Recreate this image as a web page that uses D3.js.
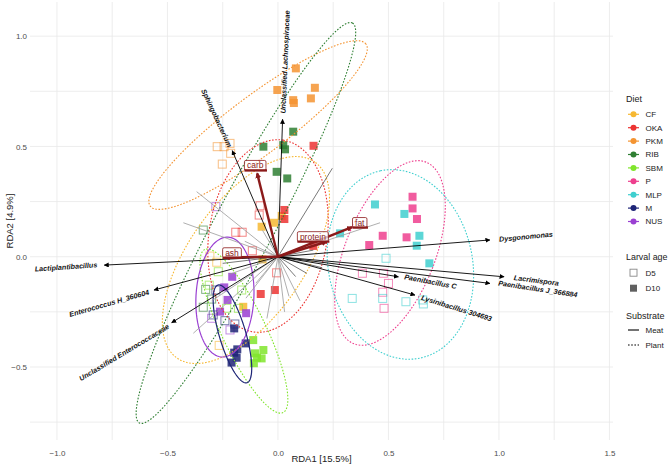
<!DOCTYPE html>
<html><head><meta charset="utf-8">
<script src="https://cdn.jsdelivr.net/npm/d3@7"></script>
<style>body{margin:0;background:#fff}svg{display:block;font-family:"Liberation Sans",Arial,sans-serif}</style>
</head><body>
<svg id="c" width="669" height="465"></svg>
<script>
// ---------- data ----------
const diets = ["CF","OKA","PKM","RIB","SBM","P","MLP","M","NUS"];
const dietColors = ["#F6B832","#EC3432","#F49432","#2F7F33","#80E52C","#EE3F8E","#3FCFCF","#1E2577","#9A40D2"];
const dietLine = ["dotted","dotted","dotted","dotted","dotted","dotted","dotted","solid","solid"];
const ages = ["D5","D10"];
const substrates = ["Meat","Plant"];

// samples
const sDiet = [
 "PKM","PKM","PKM","PKM","PKM","PKM","PKM","PKM","PKM","PKM","PKM",
 "CF","CF","CF","CF","CF","CF","CF","CF",
 "OKA","OKA","OKA","OKA","OKA","OKA","OKA","OKA","OKA","OKA","OKA","OKA",
 "RIB","RIB","RIB","RIB","RIB","RIB","RIB","RIB","RIB","RIB",
 "SBM","SBM","SBM","SBM","SBM","SBM","SBM","SBM","SBM","SBM","SBM",
 "NUS","NUS","NUS","NUS","NUS","NUS","NUS","NUS",
 "M","M","M","M","M","M","M","M","M","M",
 "P","P","P","P","P","P","P","P","P","P","P",
 "MLP","MLP","MLP","MLP","MLP","MLP","MLP","MLP","MLP","MLP","MLP","MLP"];
const sAge = [
 "D10","D10","D10","D10","D10","D10","D5","D5","D5","D5","D5",
 "D10","D10","D10","D10","D10","D5","D5","D5",
 "D10","D10","D10","D10","D10","D10","D5","D5","D5","D5","D5","D5",
 "D10","D10","D10","D10","D10","D10","D5","D5","D5","D5",
 "D10","D10","D10","D10","D10","D10","D5","D5","D5","D5","D5",
 "D10","D10","D10","D10","D10","D5","D5","D5",
 "D10","D10","D10","D10","D10","D10","D5","D5","D5","D5",
 "D10","D10","D10","D10","D10","D10","D5","D5","D5","D5","D5",
 "D10","D10","D10","D10","D10","D10","D5","D5","D5","D5","D5","D5"];
const sRDA1 = [
 0.081,-0.003,0.167,0.149,0.069,0.072,-0.275,-0.244,-0.217,-0.214,-0.252,
 -0.074,-0.018,0.017,-0.157,-0.070,-0.308,-0.277,-0.266,
 0.161,0.029,0.029,0.160,-0.078,-0.014,-0.081,-0.085,-0.191,-0.162,-0.116,-0.006,
 0.069,-0.066,0.024,0.032,-0.006,0.042,-0.338,-0.327,-0.338,-0.300,
 -0.112,-0.066,-0.104,-0.074,-0.095,-0.109,-0.311,-0.270,-0.164,-0.179,-0.232,
 -0.207,-0.243,-0.228,-0.262,-0.144,-0.281,-0.300,-0.217,
 -0.198,-0.146,-0.184,-0.198,-0.187,-0.210,-0.281,-0.195,-0.240,-0.293,
 0.609,0.609,0.629,0.474,0.582,0.413,0.382,0.477,0.500,0.474,0.480,
 0.439,0.572,0.640,0.628,0.281,0.685,0.489,0.336,0.474,0.579,0.655,0.658];
const sRDA2 = [
 0.854,0.756,0.766,0.718,0.710,0.697,0.499,0.499,0.514,0.469,0.420,
 0.136,0.154,0.185,-0.227,-0.012,0.003,-0.025,-0.402,
 0.503,0.212,0.171,0.049,-0.169,-0.151,0.231,0.189,0.111,0.111,0.027,-0.073,
 0.567,0.499,0.506,0.487,0.385,0.355,0.121,-0.148,-0.229,-0.192,
 -0.378,-0.423,-0.438,-0.461,-0.458,-0.483,-0.129,-0.068,-0.151,-0.234,-0.234,
 -0.091,-0.139,-0.196,-0.249,-0.256,0.227,-0.279,-0.332,
 -0.325,-0.393,-0.420,-0.435,-0.458,-0.480,-0.151,-0.305,-0.290,-0.264,
 0.272,0.219,0.171,0.095,0.088,0.053,-0.075,-0.075,-0.121,-0.161,-0.234,
 0.237,0.194,0.095,0.050,0.106,-0.030,-0.007,-0.189,-0.189,-0.204,-0.196,-0.214];

// confidence ellipses per diet (centre RDA1, RDA2, semi-axes, angle deg)
const ellDiet = ["PKM","RIB","OKA","CF","SBM","NUS","M","P","MLP"];
const ellCX   = [-0.090,-0.145,-0.045,-0.145,-0.154,-0.240,-0.206,0.507,0.554];
const ellCY   = [0.597,0.153,0.094,-0.015,-0.337,-0.183,-0.350,0.017,-0.035];
const ellA    = [0.611,1.027,0.440,0.543,0.410,0.272,0.231,0.443,0.434];
const ellB    = [0.132,0.136,0.267,0.262,0.100,0.131,0.060,0.204,0.326];
const ellAng  = [37,62,81,55,115.6,87,106.5,68.4,102];

// labelled species vectors
const spNames = ["Unclassified Lachnospiraceae","Sphingobacterium","Dysgonomonas","Lacrimispora","Paenibacillus J_366884","Paenibacillus C","Lysinibacillus 304693","Lactiplantibacillus","Enterococcus H_360604","Unclassified Enterococcaceae"];
const spX  = [0.021,-0.207,0.959,1.023,0.959,0.545,0.620,-0.786,-0.561,-0.481];
const spY  = [0.623,0.481,0.076,-0.091,-0.121,-0.091,-0.174,-0.038,-0.151,-0.299];
const spLX = [0.032,-0.277,1.122,1.169,1.176,0.690,0.808,-0.959,-0.764,-0.696];
const spLY = [0.883,0.629,0.091,-0.107,-0.146,-0.113,-0.233,-0.046,-0.211,-0.434];
const spAng = [-87.6,65,-5.7,7.4,8.7,10.7,17.1,-3.9,-15.9,-31];

// other (unlabelled) species vectors
const otX = [-0.368,-0.428,0.246,0.462,-0.383,-0.145,0.05,0.13,-0.15,-0.10,0.08,-0.07,0.20,-0.22,0.03,-0.05,-0.30,0.10,-0.25,0.16];
const otY = [0.295,0.154,0.401,0.154,-0.347,-0.188,-0.18,-0.075,0.07,-0.12,-0.09,0.12,-0.05,-0.08,-0.25,-0.28,-0.20,-0.20,-0.03,0.03];
const otDark = [0,0,1,0,0,0,0,1,0,0,1,0,1,0,0,0,0,0,1,1];

// environmental vectors
const envNames = ["carb","ash","protein","fat"];
const envX = [-0.094,-0.24,0.22,0.335];
const envY = [0.378,-0.003,0.068,0.134];
const envLX = [-0.103,-0.208,0.158,0.37];
const envLY = [0.414,0.018,0.091,0.155];

const xTicks = [-1.0,-0.5,0.0,0.5,1.0,1.5];
const yTicks = [-0.5,0.0,0.5,1.0];
const xMinor = [-0.75,-0.25,0.25,0.75,1.25];
const yMinor = [-0.75,-0.25,0.25,0.75];

// ---------- drawing ----------
const svg = d3.select("#c");
const L=30, R=613, T=2, B=440;
const x = d3.scaleLinear().domain([-1.122,1.516]).range([L,R]);
const y = d3.scaleLinear().domain([-0.831,1.155]).range([B,T]);
const col = d3.scaleOrdinal().domain(diets).range(dietColors);
const fmt = v => d3.format(".1f")(v).replace("-","\u2212");

const grid = svg.append("g");
[...xTicks,...xMinor].forEach(v=>grid.append("line").attr("x1",x(v)).attr("x2",x(v)).attr("y1",T).attr("y2",B).attr("stroke","#e8e8e8").attr("stroke-width",0.8));
[...yTicks,...yMinor].forEach(v=>grid.append("line").attr("y1",y(v)).attr("y2",y(v)).attr("x1",L).attr("x2",R).attr("stroke","#e8e8e8").attr("stroke-width",0.8));

const xAxis = svg.append("g").attr("transform",`translate(0,${B})`).call(d3.axisBottom(x).tickValues(xTicks).tickFormat(fmt).tickSize(0).tickPadding(10));
const yAxis = svg.append("g").attr("transform",`translate(${L},0)`).call(d3.axisLeft(y).tickValues(yTicks).tickFormat(fmt).tickSize(0).tickPadding(3));
[xAxis,yAxis].forEach(a=>{a.select(".domain").remove();a.selectAll("text").attr("fill","#4d4d4d").attr("font-size",8).attr("font-family","Liberation Sans, Arial, sans-serif");});

svg.append("text").attr("x",(L+R)/2).attr("y",462).attr("text-anchor","middle").attr("font-size",9.5).attr("fill","#222").text("RDA1 [15.5%]");
svg.append("text").attr("transform",`translate(13,${(T+B)/2}) rotate(-90)`).attr("text-anchor","middle").attr("font-size",9.5).attr("fill","#222").text("RDA2 [4.9%]");

const defs = svg.append("defs");
defs.append("marker").attr("id","ah").attr("viewBox","0 0 10 10").attr("refX",9).attr("refY",5)
  .attr("markerWidth",5).attr("markerHeight",5).attr("markerUnits","userSpaceOnUse").attr("orient","auto")
  .append("path").attr("d","M0,0L10,5L0,10z").attr("fill","#000");
defs.append("marker").attr("id","ahr").attr("viewBox","0 0 10 10").attr("refX",8).attr("refY",5)
  .attr("markerWidth",6).attr("markerHeight",6).attr("markerUnits","userSpaceOnUse").attr("orient","auto")
  .append("path").attr("d","M0,0L10,5L0,10z").attr("fill","#8B1A1A");

// points
const pts = svg.append("g");
sDiet.forEach((d,i)=>{
  const c = col(d), px = x(sRDA1[i]), py = y(sRDA2[i]);
  if (sAge[i]==="D10") {
    pts.append("rect").attr("x",px-4).attr("y",py-4).attr("width",8).attr("height",8).attr("fill",c).attr("opacity",0.85);
  } else {
    pts.append("rect").attr("x",px-4).attr("y",py-4).attr("width",8).attr("height",8).attr("fill","none").attr("stroke",c).attr("stroke-width",1).attr("opacity",0.6);
  }
});

// ellipses
const line = d3.line().x(p=>x(p[0])).y(p=>y(p[1]));
const ells = svg.append("g");
ellDiet.forEach((d,i)=>{
  const th = ellAng[i]*Math.PI/180, p=[];
  for(let k=0;k<=120;k++){const t=k/120*2*Math.PI, dx=ellA[i]*Math.cos(t), dy=ellB[i]*Math.sin(t);
    p.push([ellCX[i]+dx*Math.cos(th)-dy*Math.sin(th), ellCY[i]+dx*Math.sin(th)+dy*Math.cos(th)]);}
  const lt = dietLine[diets.indexOf(d)];
  ells.append("path").attr("d",line(p)).attr("fill","none").attr("stroke",col(d))
    .attr("stroke-width",lt==="solid"?1.2:1.1).attr("stroke-dasharray",lt==="solid"?null:"1.6,1.6");
});

// other species
const vec = svg.append("g");
otX.forEach((v,i)=>vec.append("line").attr("x1",x(0)).attr("y1",y(0)).attr("x2",x(v)).attr("y2",y(otY[i]))
  .attr("stroke",otDark[i]?"#555":"#9a9a9a").attr("stroke-width",0.8));
// labelled species
spNames.forEach((n,i)=>{
  vec.append("line").attr("x1",x(0)).attr("y1",y(0)).attr("x2",x(spX[i])).attr("y2",y(spY[i]))
    .attr("stroke","#000").attr("stroke-width",0.9).attr("marker-end","url(#ah)");
});
// env vectors
const env = svg.append("g");
envNames.forEach((n,i)=>env.append("line").attr("x1",x(0)).attr("y1",y(0)).attr("x2",x(envX[i])).attr("y2",y(envY[i]))
  .attr("stroke","#8B1A1A").attr("stroke-width",2.4).attr("marker-end","url(#ahr)"));
envNames.forEach((n,i)=>{
  const g = env.append("g").attr("transform",`translate(${x(envLX[i])},${y(envLY[i])})`);
  const t = g.append("text").attr("text-anchor","middle").attr("dy","0.35em").attr("font-size",8.5).attr("fill","#8B1A1A").text(n);
  const w = t.node().getComputedTextLength()+5, h=10;
  g.insert("rect","text").attr("x",-w/2).attr("y",-h/2).attr("width",w).attr("height",h).attr("rx",1.5)
    .attr("fill","#fff").attr("fill-opacity",0.7).attr("stroke","#8B1A1A").attr("stroke-width",0.8);
  g.append("line").attr("x1",-w/2).attr("x2",w/2+1).attr("y1",h/2).attr("y2",h/2).attr("stroke","#8B1A1A").attr("stroke-width",2.4);
});
// species labels
spNames.forEach((n,i)=>{
  svg.append("text").attr("transform",`translate(${x(spLX[i])},${y(spLY[i])}) rotate(${spAng[i]})`)
    .attr("text-anchor","middle").attr("dy","0.35em").attr("font-size",7.2).attr("font-weight","bold").attr("font-style","italic")
    .attr("fill","#111").text(n);
});

// legend
const lg = svg.append("g").attr("font-size",8).attr("fill","#222");
lg.append("text").attr("x",626).attr("y",102).attr("font-size",9).text("Diet");
diets.forEach((d,i)=>{
  const yy = 114.3 + i*13.4;
  lg.append("line").attr("x1",628).attr("x2",639).attr("y1",yy).attr("y2",yy).attr("stroke",col(d)).attr("stroke-width",1.2);
  lg.append("circle").attr("cx",633.5).attr("cy",yy).attr("r",3).attr("fill",col(d));
  lg.append("text").attr("x",645.5).attr("y",yy).attr("dy","0.35em").text(d);
});
lg.append("text").attr("x",626).attr("y",259.5).attr("font-size",9).attr("textLength",41.5).attr("lengthAdjust","spacingAndGlyphs").text("Larval age");
ages.forEach((a,i)=>{
  const yy = 272.7 + i*15.5;
  const r = lg.append("rect").attr("x",630).attr("y",yy-3.5).attr("width",7).attr("height",7);
  if (a==="D5") r.attr("fill","none").attr("stroke","#555").attr("stroke-width",0.9).attr("opacity",0.7);
  else r.attr("fill","#444").attr("opacity",0.85);
  lg.append("text").attr("x",645.5).attr("y",yy).attr("dy","0.35em").text(a);
});
lg.append("text").attr("x",626).attr("y",318.5).attr("font-size",9).text("Substrate");
substrates.forEach((s,i)=>{
  const yy = 330 + i*15;
  lg.append("line").attr("x1",628).attr("x2",639).attr("y1",yy).attr("y2",yy).attr("stroke","#000").attr("stroke-width",1.1)
    .attr("stroke-dasharray",s==="Plant"?"1.6,1.6":null);
  lg.append("text").attr("x",645.5).attr("y",yy).attr("dy","0.35em").text(s);
});
</script>
</body></html>
